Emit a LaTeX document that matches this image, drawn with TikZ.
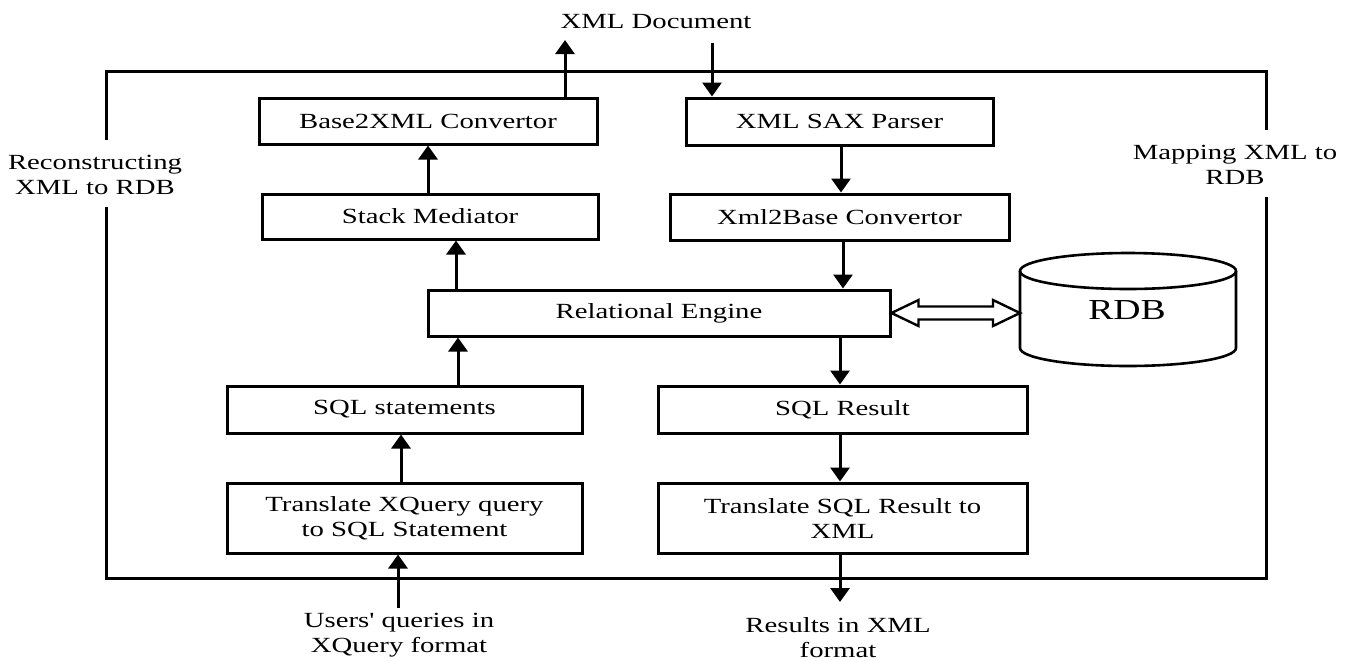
\documentclass[tikz,border=0pt]{standalone}
\usepackage{fontspec}
\usepackage{graphicx}
\setmainfont{Liberation Serif}[Ligatures=TeXOff]
\usetikzlibrary{arrows.meta,calc}

% wide-set text, as used throughout the figure
\newcommand\widetxt[1]{\scalebox{1.33}[1]{#1}}

\tikzset{
  every node/.style={font=\fontsize{10.8}{12.5}\selectfont, inner sep=0pt},
  stagebox/.style={draw, line width=1.5pt, align=center},
  arr/.style={line width=1.5pt, -{Triangle[length=7pt,width=9.5pt]}},
  frame/.style={line width=1.5pt},
  hollow/.style={draw, line width=1.2pt, fill=white, line join=miter},
  cyl/.style={line width=1.3pt},
  label/.style={align=center}
}

\begin{document}
\begin{tikzpicture}[x=0.5pt, y=-0.5pt]
\useasboundingbox (0,0) rectangle (1354,660);

% processing stages
\node[stagebox, minimum width=169pt,   minimum height=23pt]   (b2x)  at (428,121)   {\widetxt{Base2XML Convertor}};
\node[stagebox, minimum width=168pt,   minimum height=22.5pt] (sm)   at (430,216.5) {\widetxt{Stack Mediator}};
\node[stagebox, minimum width=153.5pt, minimum height=23.5pt] (sax)  at (839.5,121.5) {\widetxt{XML SAX Parser}};
\node[stagebox, minimum width=169.5pt, minimum height=23pt]   (x2b)  at (839.5,217) {\widetxt{Xml2Base Convertor}};
\node[stagebox, minimum width=231pt,   minimum height=23pt]   (re)   at (659,313)   {\widetxt{Relational Engine}};
\node[stagebox, minimum width=177.5pt, minimum height=23.5pt] (sqls) at (404.5,409.5) {\widetxt{SQL statements}};
\node[stagebox, minimum width=184.5pt, minimum height=23.5pt] (sqlr) at (842.5,409.5) {\widetxt{SQL Result}};
\node[stagebox, minimum width=177.5pt, minimum height=35pt]   (txq)  at (404.5,518) {\widetxt{Translate XQuery query}\\\widetxt{to SQL Statement}};
\node[stagebox, minimum width=184.5pt, minimum height=35pt]   (tsq)  at (842.5,518) {\widetxt{Translate SQL Result to}\\\widetxt{XML}};

% free labels
\node[label] (xmldoc) at (656,22)    {\widetxt{XML Document}};
\node[label] (recon)  at (95,175)    {\widetxt{Reconstructing}\\\widetxt{XML to RDB}};
\node[label] (mapping) at (1235,164.5) {\widetxt{Mapping XML to}\\\widetxt{RDB}};
\node[label] (users)  at (399,635)   {\widetxt{Users' queries in}\\\widetxt{XQuery format}};
\node[label] (results) at (838,638)  {\widetxt{Results in XML}\\\widetxt{format}};

% outer frame, broken where the side labels sit
\draw[frame] (106,140) -- (106,71) -- (1266,71) -- (1266,130);
\draw[frame] (1266,197) -- (1266,578) -- (106,578) -- (106,207);

% relational database
\draw[cyl] (1020,271) -- (1020,348)
  arc[start angle=180, end angle=360, x radius=54pt, y radius=9pt] -- (1236,271);
\draw[cyl] (1128,271) ellipse[x radius=54pt, y radius=9pt];
\node[font=\fontsize{14.5}{16}\selectfont] (rdb) at (1127,310) {\scalebox{1.3}[1]{RDB}};
\coordinate (rdbw) at (1020,313);

% open ends of the flow
\coordinate (xmlout) at (565,40);
\coordinate (xmlin)  at (712,43);
\coordinate (usersin) at (398,608);
\coordinate (resout) at (840,602);

% flow arrows
\draw[arr] (565,0 |- b2x.north) -- (xmlout);
\draw[arr] (428,0 |- sm.north)  -- (428,0 |- b2x.south);
\draw[arr] (456,0 |- re.north)  -- (456,0 |- sm.south);
\draw[arr] (xmlin) -- (712,0 |- sax.north);
\draw[arr] (841,0 |- sax.south) -- (841,0 |- x2b.north);
\draw[arr] (843,0 |- x2b.south) -- (843,0 |- re.north);
\draw[arr] (840,0 |- re.south)  -- (840,0 |- sqlr.north);
\draw[arr] (458,0 |- sqls.north) -- (458,0 |- re.south);
\draw[arr] (401,0 |- txq.north) -- (401,0 |- sqls.south);
\draw[arr] (usersin) -- (398,0 |- txq.south);
\draw[arr] (840,0 |- sqlr.south) -- (840,0 |- tsq.north);
\draw[arr] (840,0 |- tsq.south) -- (resout);

% two-way hollow arrow between the engine and the database
\draw[hollow] (re.east)
  -- ($(re.east)+(27,-13)$) -- ($(re.east)+(27,-6.5)$)
  -- ($(rdbw)+(-27,-6.5)$) -- ($(rdbw)+(-27,-13)$)
  -- (rdbw)
  -- ($(rdbw)+(-27,13)$) -- ($(rdbw)+(-27,6.5)$)
  -- ($(re.east)+(27,6.5)$) -- ($(re.east)+(27,13)$)
  -- cycle;
\end{tikzpicture}
\end{document}
